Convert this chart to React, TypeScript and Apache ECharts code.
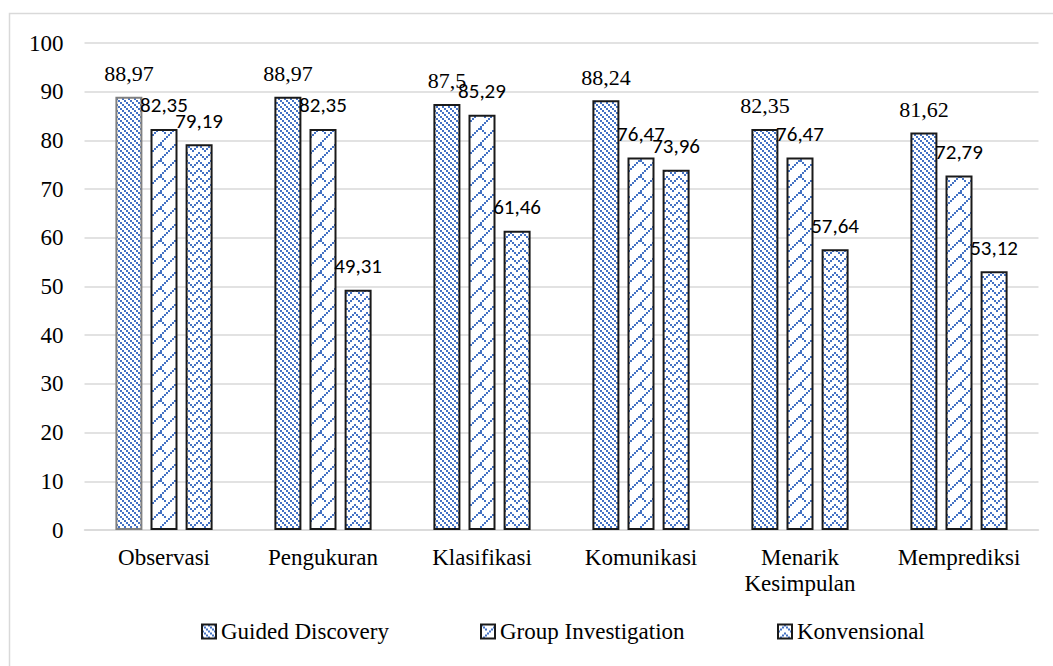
import React, { useEffect, useRef } from "react";
import * as echarts from "echarts";

const categories = ["Observasi", "Pengukuran", "Klasifikasi", "Komunikasi", "Menarik\nKesimpulan", "Memprediksi"];
const seriesNames = ["Guided Discovery", "Group Investigation", "Konvensional"];
const guidedDiscovery = [88.97, 88.97, 87.5, 88.24, 82.35, 81.62];
const groupInvestigation = [82.35, 82.35, 85.29, 76.47, 76.47, 72.79];
const konvensional = [79.19, 49.31, 61.46, 73.96, 57.64, 53.12];
const yTicks = { min: 0, max: 100, interval: 10 };

const BLUE = "#4472C4";

function makePattern(cols: number, rows: number, test: (i: number, j: number) => boolean) {
  const b = 2;
  const c = document.createElement("canvas");
  c.width = cols * b;
  c.height = rows * b;
  const ctx = c.getContext("2d")!;
  ctx.fillStyle = "#ffffff";
  ctx.fillRect(0, 0, c.width, c.height);
  ctx.fillStyle = BLUE;
  for (let i = 0; i < cols; i++) {
    for (let j = 0; j < rows; j++) {
      if (test(i, j)) ctx.fillRect(i * b, j * b, b, b);
    }
  }
  return { image: c, repeat: "repeat", imageWidth: c.width, imageHeight: c.height } as any;
}

export default function App() {
  const ref = useRef<HTMLDivElement>(null);
  useEffect(() => {
    if (!ref.current) return;
    const chart = echarts.init(ref.current, undefined, { renderer: "svg" });
    const p1 = makePattern(6, 6, (i, j) => ((i - j) % 3 + 3) % 3 === 0);
    const p2 = makePattern(8, 8, (i, j) => (i + j) % 8 === 7 || ((i - j + 8) % 8 === 0 && i % 8 < 3));
    const p3 = makePattern(6, 4, (i, j) => j === Math.abs(i - 3) || (i === 0 && j === 3));
    const serif = "'Liberation Serif', 'Times New Roman', serif";
    const sans = "Carlito, Lato, 'Liberation Sans', sans-serif";
    const fmt = (p: any) => String(p.value).replace(".", ",");
    const datas = [guidedDiscovery, groupInvestigation, konvensional];
    const pats = [p1, p2, p3];
    const option: any = {
      animation: false,
      backgroundColor: "#ffffff",
      graphic: [
        {
          type: "rect",
          shape: { x: 9.5, y: 13.5, width: 1200, height: 800 },
          style: { fill: "none", stroke: "#d9d9d9", lineWidth: 1.5 },
          silent: true,
        },
      ],
      grid: { left: 84.5, right: 14.5, top: 43, bottom: 136, containLabel: false },
      xAxis: {
        type: "category",
        data: categories,
        axisLine: { lineStyle: { color: "#d9d9d9", width: 1.5 } },
        axisTick: { show: false },
        axisLabel: { interval: 0, color: "#000", fontFamily: serif, fontSize: 23, margin: 14, lineHeight: 26 },
      },
      yAxis: {
        type: "value",
        min: yTicks.min,
        max: yTicks.max,
        interval: yTicks.interval,
        axisLine: { show: false },
        axisTick: { show: false },
        splitLine: { lineStyle: { color: "#d9d9d9", width: 1.5 } },
        axisLabel: { color: "#000", fontFamily: serif, fontSize: 23, margin: 21 },
      },
      legend: seriesNames.map((n, k) => ({
        data: [n],
        left: [196, 475, 772][k],
        top: 615,
        itemWidth: 14,
        itemHeight: 14,
        icon: "rect",
        textStyle: { color: "#000", fontFamily: serif, fontSize: 23 },
      })),
      series: seriesNames.map((n, k) => ({
        name: n,
        type: "bar",
        barWidth: 27,
        barGap: "30%",
        data: datas[k].map((v, idx) => ({
          value: v,
          itemStyle: k === 0 && idx === 0 ? { borderColor: "#808080" } : undefined,
        })),
        itemStyle: { color: pats[k], borderColor: "#1a1a1a", borderWidth: 2 },
        label: {
          show: true,
          position: "top",
          distance: k === 0 ? 12 : 13,
          formatter: fmt,
          color: "#000",
          fontFamily: k === 0 ? serif : sans,
          fontSize: k === 0 ? 22 : 21,
        },
      })),
    };
    chart.setOption(option);
    return () => chart.dispose();
  }, []);
  return <div ref={ref} style={{ position: "fixed", left: 0, top: 0, width: 1053, height: 666 }} />;
}
